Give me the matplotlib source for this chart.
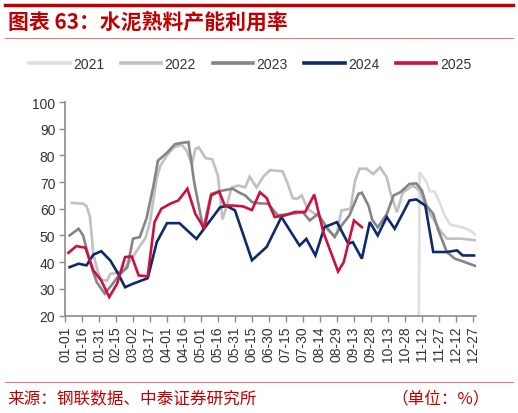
import matplotlib
matplotlib.use("Agg")
import matplotlib.pyplot as plt
from matplotlib.lines import Line2D

plt.rcParams['font.family'] = ['Liberation Sans', 'Noto Sans CJK SC', 'DejaVu Sans']

# x = day of year (0 = 01-01), y = utilisation rate (%)
days_2021 = [312, 313, 319, 322, 326, 330, 335, 340, 346, 351, 357, 363]
vals_2021 = [0, 73.7, 70, 66.5, 66.5, 63, 57.5, 54, 53.5, 53, 52, 50]

days_2022 = [6, 16, 19, 22, 25, 29, 32, 37, 40, 47, 54, 60, 66, 71, 75, 81, 84, 90, 96,
             103, 107, 112, 115, 118, 124, 130, 135, 139, 142, 147, 153, 159, 163, 169,
             175, 181, 192, 196, 201, 205, 209, 214, 221, 225, 232, 237, 240, 244, 252,
             256, 260, 266, 272, 278, 284, 287, 293, 298, 307, 313, 319, 325, 331, 337,
             349, 362]
vals_2022 = [62.2, 61.9, 61, 57, 43, 36.3, 33.5, 33, 35.6, 36, 38.5, 42, 46, 49, 55, 71.5,
             76, 80, 83, 84, 82, 76.8, 82.4, 83, 79, 78.5, 72.4, 56, 60, 68, 68.7, 68, 72,
             68, 72, 74.5, 74, 70, 64, 63.7, 65, 60, 58, 57, 52, 50, 51, 59.4, 60, 70.6,
             75, 75, 73, 75.5, 71.8, 66.2, 58.7, 66, 68.7, 66.8, 60, 56.2, 51.9, 48.8,
             48.8, 48.2]

days_2023 = [4, 12, 16, 22, 28, 35, 41, 48, 55, 60, 66, 72, 78, 82, 90, 97, 103, 109, 114,
             122, 129, 140, 148, 154, 159, 165, 172, 179, 188, 198, 210, 216, 223, 232,
             238, 244, 251, 259, 262, 268, 271, 276, 284, 290, 296, 304, 310, 315, 319,
             325, 329, 337, 344, 351, 362]
vals_2023 = [50, 52.5, 50, 40, 32.5, 28.2, 31.3, 35.3, 38, 48.8, 49.4, 56.5, 68.5, 78, 81,
             84.2, 84.7, 85, 70, 52.5, 65.6, 66.9, 67.5, 66, 65, 62.5, 62, 61.9, 57.5, 58,
             58.7, 55.6, 58, 52.5, 49.4, 53.7, 57.5, 65.6, 66, 61, 56, 53, 58, 65, 66.2,
             69.3, 69.5, 66.8, 61.2, 58.1, 52.5, 43.8, 41.3, 40.3, 38.6]

days_2024 = [4, 12, 19, 25, 32, 40, 47, 53, 60, 73, 81, 90, 101, 116, 137, 143, 150, 165,
             178, 191, 207, 213, 221, 229, 240, 250, 254, 262, 269, 276, 284, 291, 304,
             310, 318, 325, 337, 346, 351, 361]
vals_2024 = [38.1, 39.4, 38.8, 42.8, 44.1, 40.6, 35.6, 30.6, 31.9, 34, 47.5, 54.6, 54.6,
             48.7, 60.6, 61, 59.4, 40.7, 45.7, 56.9, 46.2, 48.7, 42.5, 53.1, 55, 46.9, 47.5,
             41.3, 55, 50, 56.9, 52.5, 63.1, 63.5, 61.2, 43.8, 43.8, 44.4, 42.5, 42.5]

days_2025 = [3, 10, 18, 25, 32, 39, 46, 53, 59, 65, 73, 79, 85, 93, 100, 108, 115, 123,
             129, 136, 141, 148, 157, 165, 172, 178, 185, 194, 203, 212, 220, 228, 241,
             246, 255, 262]
vals_2025 = [43.5, 46, 45.4, 36.9, 33.1, 26.9, 31.9, 41.9, 42.1, 35, 34.7, 55, 60, 61.9,
             63.1, 67.5, 58.1, 52.5, 65, 66.5, 61.2, 61.2, 60.9, 59.5, 66.2, 64, 56.9, 57.5,
             58.8, 58.8, 65.3, 51.2, 36.5, 40, 55.6, 53.1]

years = ['2021', '2022', '2023', '2024', '2025']
colors = ['#dedede', '#c0c0c0', '#858585', '#0d2a6b', '#cc1040']
tick_labels = ['01-01', '01-16', '01-31', '02-15', '03-02', '03-17', '04-01', '04-16',
               '05-01', '05-16', '05-31', '06-15', '06-30', '07-15', '07-30', '08-14',
               '08-29', '09-13', '09-28', '10-13', '10-28', '11-12', '11-27', '12-12', '12-27']

series = [(days_2021, vals_2021), (days_2022, vals_2022), (days_2023, vals_2023),
          (days_2024, vals_2024), (days_2025, vals_2025)]

fig = plt.figure(figsize=(5.18, 4.14), dpi=100)
ax = fig.add_axes([0.1255, 0.2355, 0.794, 0.5157])

for (d, v), c, y in zip(series, colors, years):
    ax.plot(d, v, color=c, lw=1.9, label=y, solid_joinstyle='miter')

ax.set_xlim(0, 363)
ax.set_ylim(20, 100)
ax.set_yticks(range(20, 101, 10))
ax.set_xticks(range(0, 361, 15))
ax.set_xticklabels(tick_labels, rotation=90)

axis_grey = '#8c8c8c'
for side in ['top', 'right']:
    ax.spines[side].set_visible(False)
for side in ['left', 'bottom']:
    ax.spines[side].set_color(axis_grey)
    ax.spines[side].set_linewidth(1.2)
ax.tick_params(axis='both', colors=axis_grey, length=4, width=1.0, labelsize=10,
               labelcolor='#333333', direction='out')
ax.tick_params(axis='y', pad=3)
ax.tick_params(axis='x', pad=3)

handles = [Line2D([0], [0], color=c, lw=2.6) for c in colors]
fig.legend(handles, years, loc='center', bbox_to_anchor=(0.483, 0.843), ncol=5,
           frameon=False, fontsize=10, handlelength=2.9, handletextpad=0.25,
           columnspacing=1.2, labelcolor='#333333')

# header and footer decoration
red = '#c00000'
fig.add_artist(Line2D([0.01, 0.99], [0.986, 0.986], color=red, lw=2.5))
fig.add_artist(Line2D([0.01, 0.99], [0.905, 0.905], color='#e08080', lw=0.8))
fig.add_artist(Line2D([0.01, 0.99], [0.076, 0.076], color='#e08080', lw=0.8))

fig.text(0.015, 0.946, '图表 63：水泥熟料产能利用率', color=red, fontsize=15,
         fontweight='bold', va='center', ha='left',
         family=['Noto Sans CJK SC', 'DejaVu Sans'])
fig.text(0.015, 0.036, '来源：钢联数据、中泰证券研究所', color=red, fontsize=12,
         va='center', ha='left', family=['Noto Sans CJK SC', 'DejaVu Sans'])
fig.text(0.946, 0.036, '（单位：%）', color=red, fontsize=12,
         va='center', ha='right', family=['Noto Sans CJK SC', 'DejaVu Sans'])

fig.savefig('out.png', dpi=100)
